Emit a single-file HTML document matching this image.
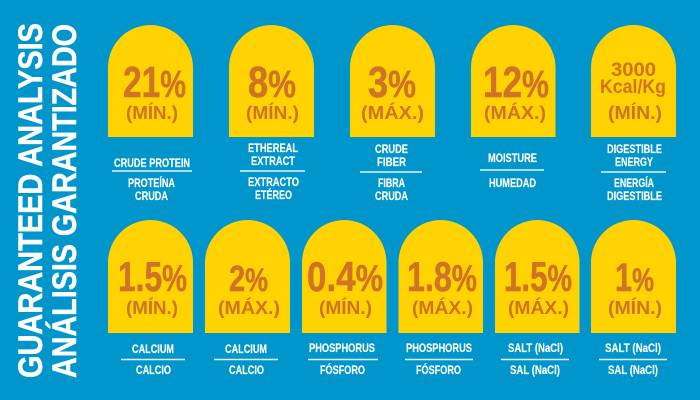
<!DOCTYPE html>
<html lang="en">
<head>
<meta charset="utf-8">
<title>Guaranteed Analysis</title>
<style>
html,body{margin:0;padding:0;background:#0096cb;}
svg{display:block;}
text{font-family:"Liberation Sans",sans-serif;font-weight:bold;}
.v{fill:#cf7326;stroke:#cf7326;stroke-width:.5;}
.u{fill:#cf7326;font-size:18px;}
.l{fill:#fff;font-size:11.5px;stroke:#fff;stroke-width:.15;}
.t{fill:#fff;font-size:34px;stroke:#fff;stroke-width:.5;}
.a{fill:#ffd200;}
.r{stroke:#e4f4fa;stroke-width:1.6;}
</style>
</head>
<body>
<svg width="700" height="400" viewBox="0 0 700 400" xmlns="http://www.w3.org/2000/svg">
<rect width="700" height="400" fill="#0096cb"/>

<text class="t" transform="translate(42,378) rotate(-90)" textLength="355" lengthAdjust="spacingAndGlyphs">GUARANTEED ANALYSIS</text>
<text class="t" transform="translate(76,378) rotate(-90)" textLength="354" lengthAdjust="spacingAndGlyphs">ANÁLISIS GARANTIZADO</text>

<g>
<path class="a" d="M108 137V67.500A42.500 42.500 0 0 1 193 67.500V137Z"/>
<text class="v" x="123" y="97" font-size="44" textLength="63" lengthAdjust="spacingAndGlyphs">21<tspan font-size="38">%</tspan></text>
<text class="u" x="126" y="119" textLength="52" lengthAdjust="spacingAndGlyphs">(MÍN.)</text>
<text class="l" x="114" y="167" textLength="76" lengthAdjust="spacingAndGlyphs">CRUDE PROTEIN</text>
<line class="r" x1="112" x2="192" y1="171" y2="171"/>
<text class="l" x="128" y="187" textLength="47" lengthAdjust="spacingAndGlyphs">PROTEÍNA</text>
<text class="l" x="135" y="200" textLength="33" lengthAdjust="spacingAndGlyphs">CRUDA</text>
</g>

<g>
<path class="a" d="M229 137V67.500A42.500 42.500 0 0 1 314 67.500V137Z"/>
<text class="v" x="248" y="97" font-size="44" textLength="48" lengthAdjust="spacingAndGlyphs">8<tspan font-size="38">%</tspan></text>
<text class="u" x="246" y="119" textLength="53" lengthAdjust="spacingAndGlyphs">(MÍN.)</text>
<text class="l" x="248" y="152" textLength="50" lengthAdjust="spacingAndGlyphs">ETHEREAL</text>
<text class="l" x="251" y="165" textLength="44" lengthAdjust="spacingAndGlyphs">EXTRACT</text>
<line class="r" x1="240" x2="305" y1="171" y2="171"/>
<text class="l" x="248" y="186" textLength="51" lengthAdjust="spacingAndGlyphs">EXTRACTO</text>
<text class="l" x="255" y="199" textLength="37" lengthAdjust="spacingAndGlyphs">ETÉREO</text>
</g>

<g>
<path class="a" d="M350 137V67.500A42.500 42.500 0 0 1 435 67.500V137Z"/>
<text class="v" x="368" y="97" font-size="44" textLength="48" lengthAdjust="spacingAndGlyphs">3<tspan font-size="38">%</tspan></text>
<text class="u" x="361" y="119" textLength="63" lengthAdjust="spacingAndGlyphs">(MÁX.)</text>
<text class="l" x="375" y="153" textLength="33" lengthAdjust="spacingAndGlyphs">CRUDE</text>
<text class="l" x="377" y="166" textLength="29" lengthAdjust="spacingAndGlyphs">FIBER</text>
<line class="r" x1="360" x2="422" y1="172" y2="172"/>
<text class="l" x="378" y="187" textLength="27" lengthAdjust="spacingAndGlyphs">FIBRA</text>
<text class="l" x="375" y="200" textLength="33" lengthAdjust="spacingAndGlyphs">CRUDA</text>
</g>

<g>
<path class="a" d="M471 137V67.500A42.250 42.500 0 0 1 555.500 67.500V137Z"/>
<text class="v" x="483" y="97" font-size="44" textLength="66" lengthAdjust="spacingAndGlyphs">12<tspan font-size="38">%</tspan></text>
<text class="u" x="484" y="119" textLength="62" lengthAdjust="spacingAndGlyphs">(MÁX.)</text>
<text class="l" x="488" y="162" textLength="49" lengthAdjust="spacingAndGlyphs">MOISTURE</text>
<line class="r" x1="480" x2="544" y1="170" y2="170"/>
<text class="l" x="489" y="187" textLength="47" lengthAdjust="spacingAndGlyphs">HUMEDAD</text>
</g>

<g>
<path class="a" d="M591 137V67.500A42.500 42.500 0 0 1 676 67.500V137Z"/>
<text class="u" x="611" y="76" style="font-size:19px" textLength="45" lengthAdjust="spacingAndGlyphs">3000</text>
<text class="u" x="600" y="93" style="font-size:19px" textLength="66" lengthAdjust="spacingAndGlyphs">Kcal/Kg</text>
<text class="u" x="608" y="119" textLength="54" lengthAdjust="spacingAndGlyphs">(MÍN.)</text>
<text class="l" x="607" y="153" textLength="55" lengthAdjust="spacingAndGlyphs">DIGESTIBLE</text>
<text class="l" x="615" y="166" textLength="38" lengthAdjust="spacingAndGlyphs">ENERGY</text>
<line class="r" x1="601" x2="666" y1="172" y2="172"/>
<text class="l" x="614" y="187" textLength="40" lengthAdjust="spacingAndGlyphs">ENERGÍA</text>
<text class="l" x="607" y="200" textLength="55" lengthAdjust="spacingAndGlyphs">DIGESTIBLE</text>
</g>

<g>
<path class="a" d="M108 333V262.500A42.500 42.500 0 0 1 193 262.500V333Z"/>
<text class="v" x="118" y="291" font-size="42" textLength="69" lengthAdjust="spacingAndGlyphs">1.5<tspan font-size="37">%</tspan></text>
<text class="u" x="126" y="314" textLength="52" lengthAdjust="spacingAndGlyphs">(MÍN.)</text>
<text class="l" x="132" y="353" textLength="42" lengthAdjust="spacingAndGlyphs">CALCIUM</text>
<line class="r" x1="121" x2="185" y1="359.500" y2="359.500"/>
<text class="l" x="136" y="374" textLength="35" lengthAdjust="spacingAndGlyphs">CALCIO</text>
</g>

<g>
<path class="a" d="M205 333V262.500A42.500 42.500 0 0 1 290 262.500V333Z"/>
<text class="v" x="229" y="291" font-size="36" textLength="39" lengthAdjust="spacingAndGlyphs">2<tspan font-size="32">%</tspan></text>
<text class="u" x="218" y="314" textLength="62" lengthAdjust="spacingAndGlyphs">(MÁX.)</text>
<text class="l" x="225" y="353" textLength="42" lengthAdjust="spacingAndGlyphs">CALCIUM</text>
<line class="r" x1="214" x2="278" y1="359.500" y2="359.500"/>
<text class="l" x="229" y="374" textLength="35" lengthAdjust="spacingAndGlyphs">CALCIO</text>
</g>

<g>
<path class="a" d="M302 333V262.500A42.250 42.500 0 0 1 386.500 262.500V333Z"/>
<text class="v" x="307" y="291" font-size="42" textLength="76" lengthAdjust="spacingAndGlyphs">0.4<tspan font-size="37">%</tspan></text>
<text class="u" x="319" y="314" textLength="53" lengthAdjust="spacingAndGlyphs">(MÍN.)</text>
<text class="l" x="309" y="352" textLength="66" lengthAdjust="spacingAndGlyphs">PHOSPHORUS</text>
<line class="r" x1="308" x2="378" y1="359.500" y2="359.500"/>
<text class="l" x="320" y="374" textLength="45" lengthAdjust="spacingAndGlyphs">FÓSFORO</text>
</g>

<g>
<path class="a" d="M398.500 333V262.500A42.250 42.500 0 0 1 483 262.500V333Z"/>
<text class="v" x="407" y="291" font-size="42" textLength="70" lengthAdjust="spacingAndGlyphs">1.8<tspan font-size="37">%</tspan></text>
<text class="u" x="412" y="314" textLength="61" lengthAdjust="spacingAndGlyphs">(MÁX.)</text>
<text class="l" x="406" y="352" textLength="66" lengthAdjust="spacingAndGlyphs">PHOSPHORUS</text>
<line class="r" x1="405" x2="473" y1="359.500" y2="359.500"/>
<text class="l" x="416" y="374" textLength="45" lengthAdjust="spacingAndGlyphs">FÓSFORO</text>
</g>

<g>
<path class="a" d="M495 333V262.500A42.250 42.500 0 0 1 579.500 262.500V333Z"/>
<text class="v" x="504" y="291" font-size="42" textLength="68" lengthAdjust="spacingAndGlyphs">1.5<tspan font-size="37">%</tspan></text>
<text class="u" x="508" y="314" textLength="61" lengthAdjust="spacingAndGlyphs">(MÁX.)</text>
<text class="l" x="508" y="352" textLength="55" lengthAdjust="spacingAndGlyphs">SALT (NaCl)</text>
<line class="r" x1="501" x2="569" y1="359.500" y2="359.500"/>
<text class="l" x="510" y="374" textLength="50" lengthAdjust="spacingAndGlyphs">SAL (NaCl)</text>
</g>

<g>
<path class="a" d="M591 333V262.500A42.500 42.500 0 0 1 676 262.500V333Z"/>
<text class="v" x="615" y="291" font-size="40" textLength="39" lengthAdjust="spacingAndGlyphs">1<tspan font-size="32">%</tspan></text>
<text class="u" x="608" y="314" textLength="54" lengthAdjust="spacingAndGlyphs">(MÍN.)</text>
<text class="l" x="605" y="352" textLength="56" lengthAdjust="spacingAndGlyphs">SALT (NaCl)</text>
<line class="r" x1="599" x2="667" y1="359.500" y2="359.500"/>
<text class="l" x="608" y="374" textLength="50" lengthAdjust="spacingAndGlyphs">SAL (NaCl)</text>
</g>
</svg>
</body>
</html>
